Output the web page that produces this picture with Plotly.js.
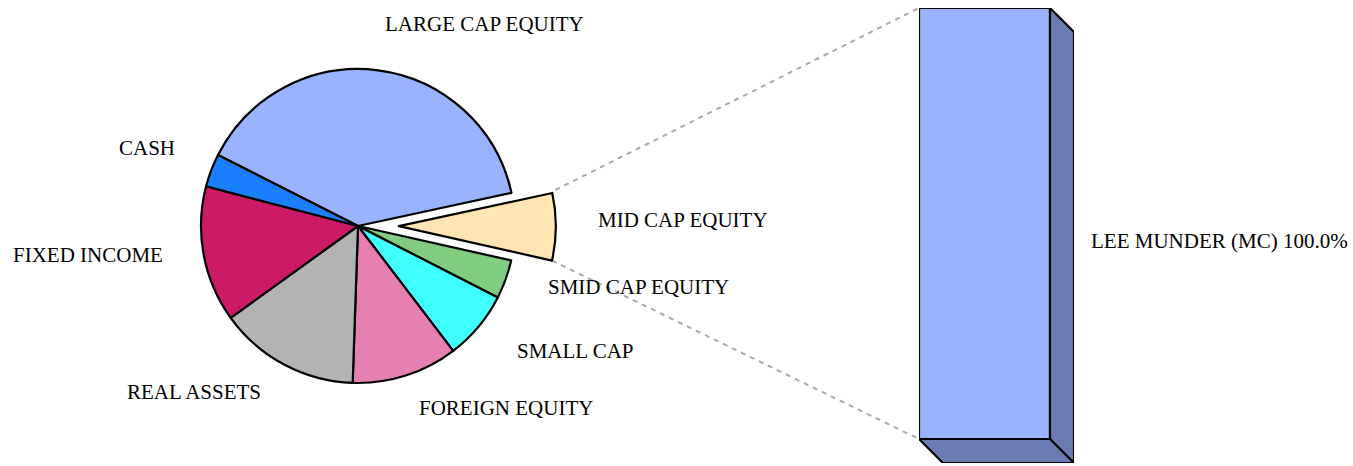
<!DOCTYPE html>
<html>
<head>
<meta charset="utf-8">
<script src="https://cdn.plot.ly/plotly-3.0.1.min.js"></script>
<style>
  html, body { margin: 0; padding: 0; background: #fff; }
  #chart { width: 1353px; height: 466px; }
</style>
</head>
<body>
<div id="chart"></div>
<script>
// pie slices, clockwise from the upper left
const sliceLabels = ['LARGE CAP EQUITY', 'MID CAP EQUITY', 'SMID CAP EQUITY', 'SMALL CAP',
    'FOREIGN EQUITY', 'REAL ASSETS', 'FIXED INCOME', 'CASH'];
const sliceValues = [39.1, 6.9, 4.0, 7.1, 10.9, 14.5, 14.0, 3.4];
const sliceColors = ['#99b3ff', '#ffe6b3', '#80cc80', '#40ffff',
    '#e680b3', '#b3b3b3', '#cc1a66', '#1a80ff'];
const pulled = 'MID CAP EQUITY';

// breakdown of the pulled slice
const barLabels = ['LEE MUNDER (MC)'];
const barValues = [100.0];

const W = 1353, H = 466;
const px = v => v / W;
const py = v => 1 - v / H;

const pull = 0.26;
const pieCx = 358, pieCy = 226, pieR = 157;
const pieSide = pieR * (2 + 2 * pull);
const rotation = -63.1;

// bar geometry (pixels)
const barLeft = 919, barRight = 1050, barTop = 8, barBottom = 439, depth = 24;
const dx = depth / (barRight - barLeft);
const dy = depth * barValues[0] / (barBottom - barTop);

const font = {family: '"Liberation Serif", "Times New Roman", serif', size: 21, color: '#000'};

const pie = {
    type: 'pie',
    labels: sliceLabels,
    values: sliceValues,
    sort: false,
    direction: 'clockwise',
    rotation: rotation,
    pull: sliceLabels.map(l => l === pulled ? pull : 0),
    marker: {colors: sliceColors, line: {color: '#000', width: 2.2}},
    textinfo: 'none',
    hoverinfo: 'label+percent',
    domain: {
        x: [px(pieCx - pieSide / 2), px(pieCx + pieSide / 2)],
        y: [py(pieCy + pieSide / 2), py(pieCy - pieSide / 2)]
    }
};

const bar = {
    type: 'bar',
    x: [0],
    y: barValues,
    width: 1,
    hovertext: barLabels,
    textposition: 'none',
    hoverinfo: 'text+y',
    xaxis: 'x',
    yaxis: 'y',
    cliponaxis: false,
    marker: {color: '#99b3ff', line: {color: '#000', width: 2.2}}
};

const v = barValues[0];
const side = {
    type: 'scatter', mode: 'lines', fill: 'toself', fillcolor: '#6a7cb2',
    x: [0.5, 0.5 + dx, 0.5 + dx, 0.5, 0.5],
    y: [v, v - dy, -dy, 0, v],
    line: {color: '#000', width: 2.2}, cliponaxis: false, hoverinfo: 'skip'
};
const bottom = {
    type: 'scatter', mode: 'lines', fill: 'toself', fillcolor: '#6a7cb2',
    x: [-0.5, -0.5 + dx, 0.5 + dx, 0.5, -0.5],
    y: [0, -dy, -dy, 0, 0],
    line: {color: '#000', width: 2.2}, cliponaxis: false, hoverinfo: 'skip'
};

// connector lines: outer corners of the pulled slice to the bar
const total = sliceValues.reduce((a, b) => a + b, 0);
const k = sliceLabels.indexOf(pulled);
const before = sliceValues.slice(0, k).reduce((a, b) => a + b, 0);
const a0 = (rotation + before / total * 360) * Math.PI / 180;
const a1 = (rotation + (before + sliceValues[k]) / total * 360) * Math.PI / 180;
const am = (a0 + a1) / 2;
const ox = pieCx + pull * pieR * Math.sin(am), oy = pieCy - pull * pieR * Math.cos(am);
const c0 = [ox + pieR * Math.sin(a0), oy - pieR * Math.cos(a0)];
const c1 = [ox + pieR * Math.sin(a1), oy - pieR * Math.cos(a1)];
const dash = {color: '#aaaaaa', width: 2, dash: '5px,5px'};
const shapes = [
    {type: 'line', xref: 'paper', yref: 'paper', x0: px(c0[0] + 3), y0: py(c0[1] - 3), x1: px(barLeft), y1: py(barTop), line: dash, layer: 'below'},
    {type: 'line', xref: 'paper', yref: 'paper', x0: px(c1[0]), y0: py(c1[1]), x1: px(barLeft), y1: py(barBottom), line: dash, layer: 'below'}
];

// label positions (pixel centres)
const labelPos = [[484, 24], [683, 220], [638, 287], [575, 351], [506, 408], [194, 392], [88, 255], [147, 148]];
const annotations = sliceLabels.map((t, i) => ({
    text: t, xref: 'paper', yref: 'paper', x: px(labelPos[i][0]), y: py(labelPos[i][1]),
    showarrow: false, font: font, xanchor: 'center', yanchor: 'middle'
}));
annotations.push({
    text: barLabels[0] + ' ' + barValues[0].toFixed(1) + '%', xref: 'paper', yref: 'paper',
    x: px(1089), y: py(241), xanchor: 'left', yanchor: 'middle', showarrow: false, font: font
});

const layout = {
    width: W,
    height: H,
    margin: {l: 0, r: 0, t: 0, b: 0},
    paper_bgcolor: '#fff',
    plot_bgcolor: 'rgba(0,0,0,0)',
    showlegend: false,
    xaxis: {
        domain: [px(barLeft), px(barRight + depth)],
        range: [-0.5, 0.5 + dx],
        visible: false, fixedrange: true
    },
    yaxis: {
        domain: [py(barBottom + depth), py(barTop)],
        range: [-dy, v],
        visible: false, fixedrange: true
    },
    shapes: shapes,
    annotations: annotations
};

Plotly.newPlot('chart', [pie, side, bottom, bar], layout, {displayModeBar: false, staticPlot: true});
</script>
</body>
</html>
